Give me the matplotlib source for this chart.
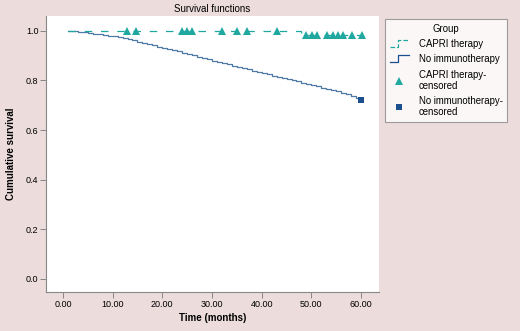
import matplotlib
matplotlib.use('Agg')
from matplotlib import pyplot as plt
from matplotlib.lines import Line2D
from matplotlib.legend_handler import HandlerBase

plt.rcParams['font.family'] = ['Liberation Sans', 'DejaVu Sans']

# No immunotherapy: Kaplan-Meier steps (months, cumulative survival)
no_imm_time = [1, 2, 3, 4, 5, 6, 7, 8, 9, 10, 11, 12, 13, 14, 15, 16, 17, 18,
               19, 20, 21, 22, 23, 24, 25, 26, 27, 28, 29, 30, 31, 32, 33, 34,
               35, 36, 37, 38, 39, 40, 41, 42, 43, 44, 45, 46, 47, 48, 49, 50,
               51, 52, 53, 54, 55, 56, 57, 58, 59, 60]
no_imm_surv = [1.000, 0.998, 0.996, 0.994, 0.991, 0.989, 0.986, 0.984, 0.981,
               0.978, 0.975, 0.971, 0.967, 0.962, 0.957, 0.952, 0.947, 0.942,
               0.937, 0.932, 0.927, 0.922, 0.917, 0.912, 0.906, 0.901, 0.895,
               0.890, 0.885, 0.880, 0.875, 0.870, 0.865, 0.860, 0.855, 0.850,
               0.845, 0.840, 0.835, 0.829, 0.825, 0.820, 0.815, 0.811, 0.806,
               0.801, 0.796, 0.791, 0.786, 0.781, 0.776, 0.771, 0.766, 0.761,
               0.756, 0.751, 0.746, 0.738, 0.730, 0.722]
no_imm_cens_time = [60.0]
no_imm_cens_surv = [0.722]

# CAPRI therapy
capri_time = [1.0, 48.0, 60.2]
capri_surv = [1.0, 0.983, 0.983]
capri_cens_time = [12.9, 14.8, 23.9, 24.9, 25.9, 32.1, 35.1, 37.0, 43.0,
                   49.0, 50.2, 51.2, 53.2, 54.3, 55.3, 56.3, 58.1, 60.2]
capri_cens_surv = [1.0] * 9 + [0.983] * 9

xticks = [0, 10, 20, 30, 40, 50, 60]
yticks = [0.0, 0.2, 0.4, 0.6, 0.8, 1.0]

teal = '#1fa8a0'
steel = '#4f7aa6'
navy = '#1b4f8e'
bg = '#ecdcdc'


class StepHandler(HandlerBase):
    # small step icon like the SPSS legend
    def create_artists(self, legend, orig, xd, yd, width, height, fontsize, trans):
        xs = [xd, xd + width * 0.45, xd + width * 0.45, xd + width]
        ys = [yd, yd, yd + height * 1.1, yd + height * 1.1]
        ln = Line2D(xs, ys, color=orig.get_color(), lw=orig.get_linewidth(),
                    linestyle=orig.get_linestyle())
        ln.set_transform(trans)
        return [ln]


fig = plt.figure(figsize=(5.2, 3.31), dpi=100, facecolor=bg)
ax = fig.add_axes([46 / 520, 39 / 331, 333 / 520, 276 / 331])
ax.set_facecolor('white')

ax.step(no_imm_time, no_imm_surv, where='post', color=steel, lw=0.9)
ax.step(capri_time, capri_surv, where='post', color=teal, lw=0.9, dashes=(6, 7))
ax.plot(capri_cens_time, capri_cens_surv, '^', color=teal, ms=5.5, mew=0)
ax.plot(no_imm_cens_time, no_imm_cens_surv, 's', color=navy, ms=4, mew=0)

ax.set_xlim(-3.4, 63.6)
ax.set_ylim(-0.053, 1.06)
ax.set_xticks(xticks)
ax.set_xticklabels(['%.2f' % t for t in xticks])
ax.set_yticks(yticks)
ax.set_yticklabels(['%.1f' % t for t in yticks])
ax.tick_params(labelsize=6.5, length=4, width=0.6, color='#777777', pad=1.5)
for s in ['top', 'right']:
    ax.spines[s].set_visible(False)
for s in ['left', 'bottom']:
    ax.spines[s].set_color('#888888')
    ax.spines[s].set_linewidth(0.8)

ax.set_title('Survival functions', fontsize=7, pad=3)
ax.set_xlabel('Time (months)', fontsize=7, fontweight='bold', labelpad=3)
ax.set_ylabel('Cumulative survival', fontsize=7, fontweight='bold', labelpad=7)

handles = [
    Line2D([], [], color=teal, lw=0.9, dashes=(3, 3)),
    Line2D([], [], color=navy, lw=0.9),
    Line2D([], [], color=teal, marker='^', ms=5.5, mew=0, linestyle='None'),
    Line2D([], [], color=navy, marker='s', ms=4, mew=0, linestyle='None'),
]
labels = ['CAPRI therapy', 'No immunotherapy', 'CAPRI therapy-\ncensored',
          'No immunotherapy-\ncensored']
leg = fig.legend(handles, labels, title='Group', loc='upper left',
                 bbox_to_anchor=(385 / 520, 1 - 19 / 331),
                 fontsize=6.9, title_fontsize=6.9, frameon=True, fancybox=False,
                 handlelength=2.0, handletextpad=1.0, borderpad=0.5,
                 labelspacing=0.55, borderaxespad=0,
                 handler_map={handles[0]: StepHandler(), handles[1]: StepHandler()})
leg.get_frame().set_edgecolor('#888888')
leg.get_frame().set_linewidth(0.8)
for t in leg.get_texts():
    t.set_linespacing(1.15)

fig.savefig('out.png', dpi=100, facecolor=bg)
